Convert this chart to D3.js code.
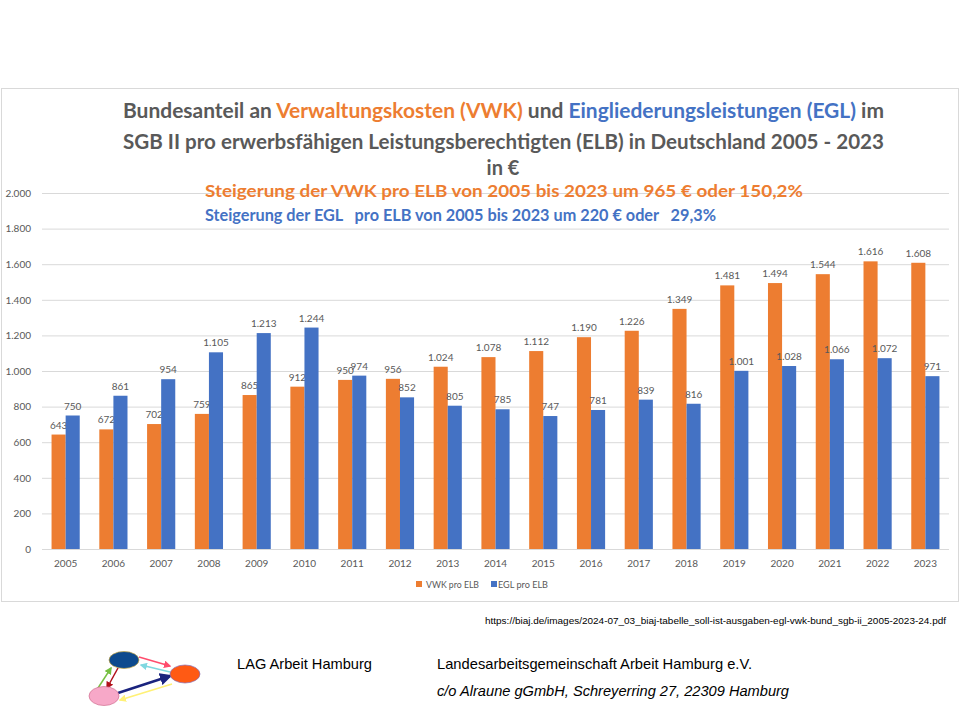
<!DOCTYPE html>
<html><head><meta charset="utf-8">
<script src="https://cdn.jsdelivr.net/npm/d3@7"></script>
<style>
html,body{margin:0;padding:0;background:#fff;}
svg{display:block;}
text{white-space:pre;}
</style></head>
<body>
<svg id="c" width="960" height="720"></svg>
<script>
const years = ["2005","2006","2007","2008","2009","2010","2011","2012","2013","2014","2015","2016","2017","2018","2019","2020","2021","2022","2023"];
const vwk = [643,672,702,759,865,912,950,956,1024,1078,1112,1190,1226,1349,1481,1494,1544,1616,1608];
const egl = [750,861,954,1105,1213,1244,974,852,805,785,747,781,839,816,1001,1028,1066,1072,971];
const seriesNames = ["VWK pro ELB","EGL pro ELB"];
const yTicks = [0,200,400,600,800,1000,1200,1400,1600,1800,2000];

const ORANGE = "#ed7d31", BLUE = "#4472c4", GRAY = "#595959", GRID = "#d9d9d9";
const de = d3.formatLocale({decimal:",", thousands:".", grouping:[3], currency:["","€"]});
const fmt = de.format(",");

const svg = d3.select("#c");

// chart frame
svg.append("rect").attr("x",1.5).attr("y",88.5).attr("width",957).attr("height",513)
  .attr("fill","none").attr("stroke",GRID).attr("stroke-width",1);

const x0 = d3.scaleBand().domain(years).range([42,949]).paddingInner(0.41).paddingOuter(0.2);
const x1 = d3.scaleBand().domain(seriesNames).range([0,x0.bandwidth()]);
const y = d3.scaleLinear().domain([0,2000]).range([549,193]);

// gridlines + y axis
const yAxis = d3.axisLeft(y).tickValues(yTicks).tickSize(-(949-42)).tickFormat(fmt).tickPadding(11);
const gy = svg.append("g").attr("transform","translate(42,0)").call(yAxis);
gy.select(".domain").remove();
gy.selectAll(".tick line").attr("stroke",GRID).attr("stroke-width",1);
gy.selectAll(".tick text").attr("fill",GRAY).attr("font-family","Lato, 'Open Sans', sans-serif").attr("font-size",10);

// x axis
const xAxis = d3.axisBottom(x0).tickSize(0).tickPadding(11);
const gx = svg.append("g").attr("transform","translate(0,549)").call(xAxis);
gx.select(".domain").attr("stroke",GRID).attr("d","M42,0.5H949");
gx.selectAll(".tick text").attr("fill",GRAY).attr("font-family","Lato, 'Open Sans', sans-serif").attr("font-size",10);

// bars
const series = [{name:seriesNames[0], vals:vwk, color:ORANGE},{name:seriesNames[1], vals:egl, color:BLUE}];
series.forEach(s=>{
  const g = svg.append("g");
  g.selectAll("rect").data(years).join("rect")
    .attr("x",(d)=>x0(d)+x1(s.name))
    .attr("y",(d,i)=>y(s.vals[i]))
    .attr("width",x1.bandwidth())
    .attr("height",(d,i)=>y(0)-y(s.vals[i]))
    .attr("fill",s.color);
  g.selectAll("text").data(years).join("text")
    .attr("x",(d)=>x0(d)+x1(s.name)+x1.bandwidth()/2)
    .attr("y",(d,i)=>y(s.vals[i])-6)
    .attr("text-anchor","middle")
    .attr("fill",GRAY).attr("font-family","Lato, 'Open Sans', sans-serif").attr("font-size",10)
    .text((d,i)=>fmt(s.vals[i]));
});

// legend
const lg = svg.append("g").attr("font-family","Lato, 'Open Sans', sans-serif").attr("font-size",9.5).attr("fill",GRAY);
[[416,426,ORANGE,seriesNames[0],53],[491,498,BLUE,seriesNames[1],50]].forEach(([sx,tx,c,t,w])=>{
  lg.append("rect").attr("x",sx).attr("y",581).attr("width",6).attr("height",6).attr("fill",c);
  lg.append("text").attr("x",tx).attr("y",587.5).attr("textLength",w).attr("lengthAdjust","spacingAndGlyphs").text(t);
});

// titles
const tf = "Lato, 'Open Sans', sans-serif";
const t1 = svg.append("text").attr("x",123).attr("y",118).attr("font-family",tf).attr("font-weight","bold")
  .attr("font-size",20).attr("fill",GRAY).attr("textLength",761).attr("lengthAdjust","spacingAndGlyphs");
t1.append("tspan").text("Bundesanteil an ");
t1.append("tspan").attr("fill",ORANGE).text("Verwaltungskosten (VWK)");
t1.append("tspan").text(" und ");
t1.append("tspan").attr("fill",BLUE).text("Eingliederungsleistungen (EGL)");
t1.append("tspan").text(" im");
svg.append("text").attr("x",123).attr("y",149).attr("font-family",tf).attr("font-weight","bold")
  .attr("font-size",20).attr("fill",GRAY).attr("textLength",761).attr("lengthAdjust","spacingAndGlyphs")
  .text("SGB II pro erwerbsfähigen Leistungsberechtigten (ELB) in Deutschland 2005 - 2023");
svg.append("text").attr("x",503).attr("y",175).attr("text-anchor","middle").attr("font-family",tf).attr("font-weight","bold")
  .attr("font-size",20).attr("fill",GRAY).text("in €");
svg.append("text").attr("x",205).attr("y",197).attr("font-family",tf).attr("font-weight","bold")
  .attr("font-size",17).attr("fill",ORANGE).attr("textLength",598).attr("lengthAdjust","spacingAndGlyphs")
  .text("Steigerung der VWK pro ELB von 2005 bis 2023 um 965 € oder 150,2%");
svg.append("text").attr("x",205).attr("y",221).attr("font-family",tf).attr("font-weight","bold")
  .attr("font-size",17).attr("fill",BLUE).attr("textLength",511).attr("lengthAdjust","spacingAndGlyphs")
  .text("Steigerung der EGL   pro ELB von 2005 bis 2023 um 220 € oder   29,3%");

// source + footer
const nf = "'Liberation Sans Narrow', 'Liberation Sans', Arial, sans-serif";
svg.append("text").attr("x",485).attr("y",624).attr("font-family",nf).attr("font-size",9.5).attr("fill","#000")
  .attr("textLength",461).attr("lengthAdjust","spacingAndGlyphs")
  .text("https://biaj.de/images/2024-07_03_biaj-tabelle_soll-ist-ausgaben-egl-vwk-bund_sgb-ii_2005-2023-24.pdf");
svg.append("text").attr("x",237).attr("y",669).attr("font-family",nf).attr("font-size",15).attr("fill","#000")
  .attr("textLength",135).attr("lengthAdjust","spacingAndGlyphs").text("LAG Arbeit Hamburg");
svg.append("text").attr("x",437).attr("y",669).attr("font-family",nf).attr("font-size",15).attr("fill","#000")
  .attr("textLength",315).attr("lengthAdjust","spacingAndGlyphs").text("Landesarbeitsgemeinschaft Arbeit Hamburg e.V.");
svg.append("text").attr("x",437).attr("y",696).attr("font-family",nf).attr("font-size",15).attr("font-style","italic").attr("fill","#000")
  .attr("textLength",352).attr("lengthAdjust","spacingAndGlyphs").text("c/o Alraune gGmbH, Schreyerring 27, 22309 Hamburg");

// logo
const logo = svg.append("g");
const defs = svg.append("defs");
const arrowColors = ["#ff4d6d","#7fd8e0","#77c043","#b0101a","#1a237e","#fff176"];
arrowColors.forEach((c,i)=>{
  defs.append("marker").attr("id","ah"+i).attr("viewBox","0 0 10 10").attr("refX",8).attr("refY",5)
    .attr("markerWidth",5).attr("markerHeight",5).attr("orient","auto")
    .append("path").attr("d","M0,0L10,5L0,10z").attr("fill",c);
});
const arrows = [
  [139,657,170,666,0,1.5],
  [170,672,141,665,1,1.5],
  [98,688,111,668,2,1.5],
  [118,668,107,688,3,1.5],
  [118,693,170,676,4,2.5],
  [172,684,120,700,5,1.5]
];
arrows.forEach(([xa,ya,xb,yb,ci,w])=>{
  logo.append("line").attr("x1",xa).attr("y1",ya).attr("x2",xb).attr("y2",yb)
    .attr("stroke",arrowColors[ci]).attr("stroke-width",w).attr("marker-end","url(#ah"+ci+")");
});
logo.append("ellipse").attr("cx",124).attr("cy",660).attr("rx",15).attr("ry",8.5).attr("fill","#0d4a8e").attr("stroke","#c9a640").attr("stroke-width",0.7);
logo.append("ellipse").attr("cx",185).attr("cy",674).attr("rx",15).attr("ry",9).attr("fill","#ff5a14").attr("stroke","#8a6bb0").attr("stroke-width",0.7);
logo.append("ellipse").attr("cx",104).attr("cy",696).attr("rx",15).attr("ry",9.5).attr("fill","#f7a8c8").attr("stroke","#d07090").attr("stroke-width",0.7);
</script>
</body></html>
